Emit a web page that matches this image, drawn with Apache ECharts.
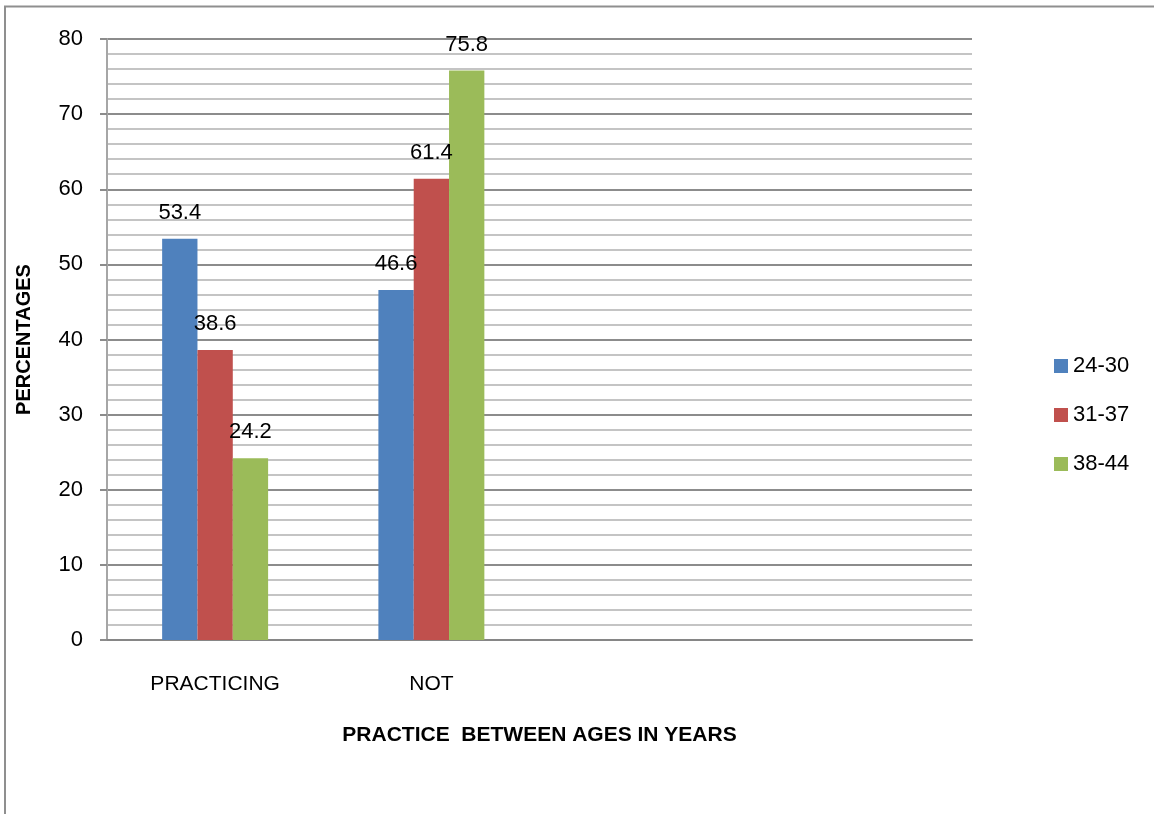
<!DOCTYPE html>
<html>
<head>
<meta charset="utf-8">
<script src="https://cdn.jsdelivr.net/npm/echarts@6/dist/echarts.min.js"></script>
<style>
  html, body { margin: 0; padding: 0; background: #fff; }
  #chart { width: 1154px; height: 814px; }
</style>
</head>
<body>
<div id="chart"></div>
<script>
// categories (the last two slots are empty in the original)
const categories = ['PRACTICING', 'NOT', '', '']
const seriesNames = ['24-30', '31-37', '38-44']
const age24to30 = [53.4, 46.6, null, null]
const age31to37 = [38.6, 61.4, null, null]
const age38to44 = [24.2, 75.8, null, null]
const colors = ['#4f81bd', '#c0504d', '#9bbb59']

const font = '"Liberation Sans", Arial, sans-serif'
const chart = echarts.init(document.getElementById('chart'))

function barSeries(name, data, color) {
  return {
    name,
    type: 'bar',
    data,
    barGap: 0,
    barCategoryGap: '51%',
    itemStyle: { color },
    label: {
      show: true,
      position: 'top',
      distance: 15,
      color: '#000',
      fontFamily: font,
      fontSize: 22
    }
  }
}

chart.setOption({
  animation: false,
  color: colors,
  graphic: [{
    type: 'rect',
    shape: { x: 5, y: 6.5, width: 2000, height: 2000 },
    style: { fill: 'none', stroke: '#8f8f8f', lineWidth: 2 },
    silent: true
  }],
  grid: { left: 107, right: 182, top: 39, bottom: 174 },
  legend: {
    orient: 'vertical',
    left: 1049,
    top: 350,
    itemWidth: 14,
    itemHeight: 14,
    itemGap: 27,
    icon: 'rect',
    textStyle: { fontFamily: font, fontSize: 22, color: '#000', lineHeight: 22 },
    data: seriesNames
  },
  xAxis: {
    type: 'category',
    data: categories,
    name: 'PRACTICE  BETWEEN AGES IN YEARS',
    nameLocation: 'middle',
    nameGap: 85,
    nameTextStyle: { fontFamily: font, fontSize: 21, fontWeight: 'bold', color: '#000' },
    axisLine: { lineStyle: { color: '#868686', width: 2 } },
    axisTick: { show: false },
    axisLabel: { margin: 34, fontFamily: font, fontSize: 21, color: '#000' }
  },
  yAxis: {
    type: 'value',
    min: 0,
    max: 80,
    interval: 10,
    name: 'PERCENTAGES',
    nameLocation: 'middle',
    nameGap: 73,
    nameRotate: 90,
    nameTextStyle: { fontFamily: font, fontSize: 20, fontWeight: 'bold', color: '#000' },
    axisLine: { show: true, lineStyle: { color: '#a6a6a6', width: 2 } },
    axisTick: { show: true, length: 7, lineStyle: { color: '#8c8c8c', width: 2 } },
    axisLabel: { margin: 24, fontFamily: font, fontSize: 22, color: '#000' },
    splitLine: { lineStyle: { color: '#8c8c8c', width: 2 } },
    minorTick: { show: false, splitNumber: 5 },
    minorSplitLine: { show: true, lineStyle: { color: '#c4c4c4', width: 2 } }
  },
  series: [
    barSeries(seriesNames[0], age24to30, colors[0]),
    barSeries(seriesNames[1], age31to37, colors[1]),
    barSeries(seriesNames[2], age38to44, colors[2])
  ]
})
</script>
</body>
</html>
